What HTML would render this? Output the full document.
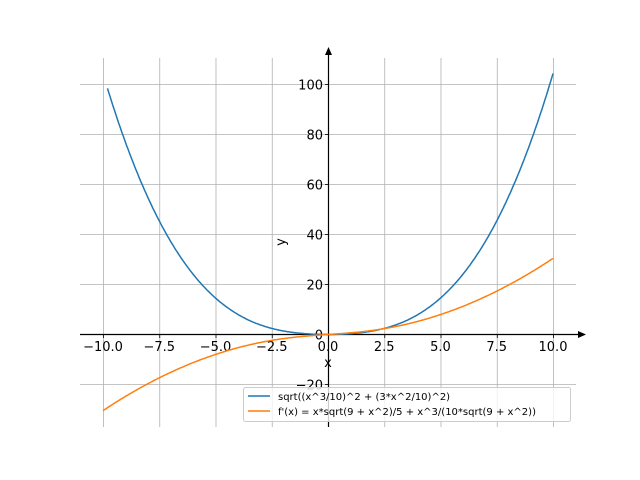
<!DOCTYPE html>
<html><head><style>body{margin:0;background:#fff}svg{display:block}text{font-family:"DejaVu Sans","Liberation Sans",sans-serif;font-size:13px;fill:#000}</style></head>
<body>
<svg id="s" width="640" height="480" xmlns="http://www.w3.org/2000/svg">
<g stroke="#b0b0b0" stroke-width="0.8" id="grid"></g>
<g id="ticks" stroke="#000" stroke-width="0.8"></g>
<g id="lbl"></g>
<line x1="80" y1="334.5" x2="582" y2="334.5" stroke="#000" stroke-width="1.2"/>
<polygon points="586,334.5 578,331 578,338" fill="#000"/>
<line x1="328.5" y1="427" x2="328.5" y2="52" stroke="#000" stroke-width="1.2"/>
<polygon points="328.5,47 325,55 332,55" fill="#000"/>
<path id="p1" fill="none" stroke="#1f77b4" stroke-width="1.5"/>
<path id="p2" fill="none" stroke="#ff7f0e" stroke-width="1.5"/>
<text x="328" y="367" text-anchor="middle">x</text>
<text transform="translate(285,242) rotate(-90)" text-anchor="middle">y</text>
<rect x="243.5" y="387.5" width="327" height="34" rx="2" fill="#fff" fill-opacity="0.8" stroke="#ccc"/>
<line x1="248" y1="396" x2="270" y2="396" stroke="#1f77b4" stroke-width="1.5"/>
<line x1="248" y1="411" x2="270" y2="411" stroke="#ff7f0e" stroke-width="1.5"/>
<text x="278" y="400" style="font-size:10px">sqrt((x^3/10)^2 + (3*x^2/10)^2)</text>
<text x="278" y="415" style="font-size:10px">f'(x) = x*sqrt(9 + x^2)/5 + x^3/(10*sqrt(9 + x^2))</text>
</svg>
<script>
var X=function(x){return 328+22.5*x},Y=function(y){return 334.5-2.5*y};
var g=document.getElementById('grid'),t=document.getElementById('ticks'),l=document.getElementById('lbl'),ns='http://www.w3.org/2000/svg';
function el(p,n,a,txt){var e=document.createElementNS(ns,n);for(var k in a)e.setAttribute(k,a[k]);if(txt)e.textContent=txt;p.appendChild(e);}
for(var v=-10;v<=10;v+=2.5){var x=X(v)+0.5;el(g,'line',{x1:x,x2:x,y1:58,y2:427});el(t,'line',{x1:x,x2:x,y1:334.5,y2:338});el(l,'text',{x:X(v),y:351,'text-anchor':'middle'},(v<0?'\u2212':'')+Math.abs(v).toFixed(1));}
for(var v=-20;v<=100;v+=20){var y=Y(v);el(g,'line',{x1:80,x2:576,y1:y,y2:y});el(t,'line',{x1:325,x2:328.5,y1:y,y2:y});el(l,'text',{x:323,y:y+5,'text-anchor':'end'},(v<0?'\u2212':'')+Math.abs(v));}
var a='',b='';
for(var i=0;i<=400;i++){var x=-10+i*0.05;var f=Math.sqrt(Math.pow(x*x*x/10,2)+Math.pow(3*x*x/10,2));var d=x*Math.sqrt(9+x*x)/5+x*x*x/(10*Math.sqrt(9+x*x));
if(x>=-9.82)a+=(a?'L':'M')+X(x).toFixed(1)+','+Y(f).toFixed(1);b+=(i?'L':'M')+X(x).toFixed(1)+','+Y(d).toFixed(1);}
document.getElementById('p1').setAttribute('d',a);document.getElementById('p2').setAttribute('d',b);
</script>
</body></html>
